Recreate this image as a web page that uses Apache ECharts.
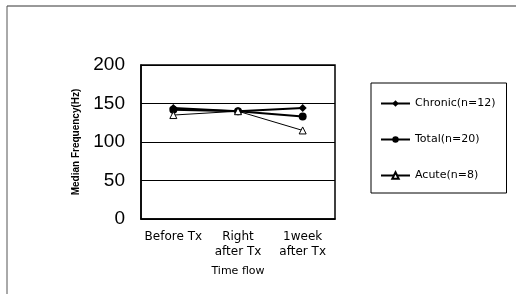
<!DOCTYPE html>
<html>
<head>
<meta charset="utf-8">
<script src="https://cdn.jsdelivr.net/npm/echarts@6/dist/echarts.min.js"></script>
<style>
  html, body { margin: 0; padding: 0; background: #fff; }
  #chart { width: 516px; height: 294px; }
</style>
</head>
<body>
<div id="chart"></div>
<script>
// time points on the x axis
const timePoints = ["Before Tx", "Right\nafter Tx", "1week\nafter Tx"];
// median frequency (Hz)
const chronic = [144, 140, 144];
const total = [142, 140, 133];
const acute = [135, 140, 115];
const yTicks = { min: 0, max: 200, step: 50 };

const chart = echarts.init(document.getElementById("chart"));
const font = "Liberation Sans, Arial, sans-serif";
const wideFont = "DejaVu Sans, sans-serif";

const option = {
  animation: false,
  backgroundColor: "#fff",
  textStyle: { fontFamily: font, color: "#000" },
  graphic: [
    // scanned page frame (top and left edges)
    { type: "line", shape: { x1: 7, y1: 6, x2: 516, y2: 6 }, style: { stroke: "#333", lineWidth: 1 } },
    { type: "line", shape: { x1: 7, y1: 6, x2: 7, y2: 294 }, style: { stroke: "#555", lineWidth: 1 } },
    // plot box
    { type: "rect", shape: { x: 141, y: 65, width: 194, height: 154 }, style: { fill: "none", stroke: "#000", lineWidth: 1.5 }, z: 10 }
  ],
  grid: { left: 141, right: 181, top: 65, bottom: 75 },
  legend: {
    orient: "vertical",
    left: 371,
    top: 83,
    padding: [15, 11, 12, 9],
    itemGap: 25,
    itemWidth: 29,
    itemHeight: 8,
    borderColor: "#000",
    borderWidth: 1,
    textStyle: { fontSize: 11, fontFamily: wideFont, color: "#000", width: 86 },
    data: ["Chronic(n=12)", "Total(n=20)", "Acute(n=8)"]
  },
  xAxis: {
    type: "category",
    data: timePoints,
    name: "Time flow",
    nameLocation: "middle",
    nameGap: 47,
    nameTextStyle: { fontSize: 11, fontFamily: wideFont, color: "#000" },
    axisLine: { lineStyle: { color: "#000", width: 1.5 } },
    axisTick: { show: false },
    axisLabel: { interval: 0, fontSize: 12, fontFamily: wideFont, color: "#000", lineHeight: 15, margin: 10 }
  },
  yAxis: {
    type: "value",
    min: yTicks.min,
    max: yTicks.max,
    interval: yTicks.step,
    name: "Median Frequency(Hz)",
    nameLocation: "middle",
    nameGap: 60,
    nameTextStyle: { fontSize: 10, fontWeight: "bold", color: "#000" },
    axisLine: { show: true, lineStyle: { color: "#000", width: 1.5 } },
    axisTick: { show: false },
    axisLabel: { fontSize: 19, color: "#000", margin: 16 },
    splitLine: { show: true, lineStyle: { color: "#000", width: 1 } }
  },
  series: [
    {
      name: "Chronic(n=12)",
      type: "line",
      data: chronic,
      symbol: "diamond",
      symbolSize: 8,
      lineStyle: { color: "#000", width: 2 },
      itemStyle: { color: "#000" }
    },
    {
      name: "Total(n=20)",
      type: "line",
      data: total,
      symbol: "circle",
      symbolSize: 8,
      lineStyle: { color: "#000", width: 2 },
      itemStyle: { color: "#000" }
    },
    {
      name: "Acute(n=8)",
      type: "line",
      data: acute,
      symbol: "triangle",
      symbolSize: 7,
      lineStyle: { color: "#000", width: 1 },
      itemStyle: { color: "#fff", borderColor: "#000", borderWidth: 1 }
    }
  ]
};

chart.setOption(option);
</script>
</body>
</html>
